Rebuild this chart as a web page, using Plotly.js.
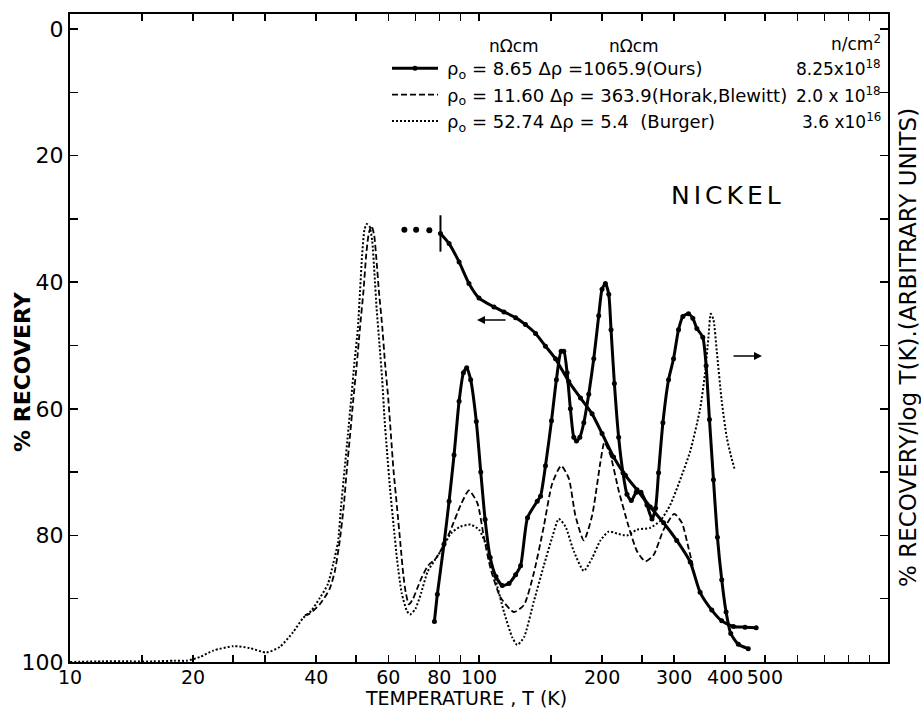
<!DOCTYPE html>
<html><head><meta charset="utf-8">
<script src="https://cdn.plot.ly/plotly-3.0.1.min.js"></script>
<style>html,body{margin:0;padding:0;background:#fff}#chart{width:921px;height:711px}</style>
</head><body><div id="chart"></div>
<script>
// ---- data (T in K; recovery in %; recovery rates in arbitrary units on right axis) ----
const oursT = [77.8,79.1,82.1,84.5,86.9,89.4,91.6,93.3,95.4,98.5,101,103.5,106.5,110,114,118.4,122.9,126.4,131.4,138.8,141.4,145.4,150.4,154.6,158.8,161.2,164.2,167.3,170.5,173.1,176.4,180.4,185.5,190.8,196.2,199.9,203.7,207.6,210.3,214.3,219.5,224.9,230.0,235.7,242.4,248.9,257.4,264.8,270.2,274.8,281.6,290.7,299.0,307.5,315.1,325.3,333.3,340.9,352.5,359.2,366.0,374.3,382.8,392.2,401.9,412.6,430.6,455.4];
const oursRate = [6.4,10.7,18.6,25.4,32.7,41.2,45.7,46.5,44.6,38,30,22.5,16.5,13.5,12.1,12.4,13.8,15.2,22.8,25.4,26.2,31.0,38.1,44.6,49.1,49.1,45.7,40.0,35.5,34.9,35.5,37.8,42.3,47.9,54.7,58.9,59.8,58.1,52.5,44.0,35.5,29.9,26.5,25.5,26.8,26.8,24.8,22.6,24.3,29.9,37.8,44.6,47.9,52.5,54.6,55.0,54.3,52.7,51.3,46.8,38.3,28.8,19.7,13.0,7.9,4.5,2.8,2.1];

const horakT = [37.5,38.5,40.8,43.1,44.4,45.6,46.7,47.5,48.4,49.3,50.3,51.2,52.2,53.0,53.8,54.6,55.4,56.1,56.9,58.0,58.9,60.0,60.9,61.8,63.0,64.2,65.3,66.2,67.4,69.0,70.5,72.5,75.0,78.5,82.0,85.3,90.2,94.5,99.1,102.8,106.8,112.9,121.7,128.8,136.2,144.0,151.0,158.8,165.8,172.1,180.4,189.0,198.1,202.6,209.5,219.5,232.2,243.4,255.0,267.2,282.7,300.1,313.3,325.3,333.3];
const horakRate = [7.4,7.6,9.1,11.5,14.3,18.9,24.6,30.3,35.9,41.6,47.3,53.0,58.7,64.4,67.8,68.9,67.5,63.8,58.7,53.0,47.3,41.6,35.9,30.3,24.6,18.9,13.8,11.0,9.1,10.0,11.5,13.4,15.2,16.4,18.5,20.9,24.8,27.1,25.1,19.7,14.7,10.2,7.9,9.0,14.1,21.4,28.2,31.0,29.0,23.1,19.2,23.1,31.6,34.7,32.7,27.1,21.4,17.5,15.9,16.9,20.9,23.4,22.0,18.0,15.2];

const burgerT = [10,12,14,16,18,19.3,20.8,22.4,25.1,27.5,30.2,32.6,35.1,37.1,38.9,40.8,42.7,44.0,45.2,46.0,46.9,47.8,48.7,49.6,50.6,51.2,51.8,52.5,53.2,54.0,54.8,55.5,56.2,57.1,58.0,58.7,59.6,60.6,61.8,63.1,64.7,66.6,67.8,69.9,72.2,74.9,77.8,81.5,85.3,90.2,95.4,100,104.8,109.8,115.1,120.6,124.0,128.8,136.2,144.0,151.0,156.7,162.7,170.5,180.4,189.0,198.1,207.6,217.5,230.0,243.4,262.3,277.4,293.4,310.4,328.4,347.2,357.1,363.9,368.7,374.3,381.4,392.2,403.4,412.6,422.7];
const burgerRate = [0,0.1,0.1,0.1,0.2,0.2,0.8,1.8,2.5,2.2,1.5,2.4,4.7,6.9,8.1,10.1,12.3,15.5,18.9,24.6,30.3,35.9,41.6,47.3,53.0,58.7,64.4,68.35,69.2,68.8,66.6,61.5,55.8,50.2,44.5,38.8,33.1,27.4,21.7,16.0,10.9,8.1,7.5,8.4,10.9,14.3,16.0,18.0,20.3,21.4,21.7,20.9,18.0,13.0,7.9,3.9,2.7,3.9,9.6,15.2,19.7,22.6,21.4,17.5,14.4,16.4,19.2,20.6,20.3,20.0,20.9,21.2,22.3,24.8,28.8,33.3,40.0,45.7,51.3,55.0,54.1,49.1,41.2,35.5,32.7,30.2];

const recT = [80.5,84.5,89.4,94.5,100,108.8,115.1,122.9,129.9,137.5,145.4,153.8,165.8,177.1,189.0,199.9,213.3,228.0,243.4,262.3,282.7,304.4,328.4,347.2,370.8,392.2,418.9,447.2,476.1];
const recPct = [32.3,33.9,36.8,40.2,42.5,43.9,44.7,45.6,46.7,48.1,50.1,52.1,55.7,58.3,60.8,63.9,67.6,70.5,72.8,75.5,78.0,80.8,84.2,89.0,91.8,93.5,94.4,94.5,94.6];
const lowT = [65.7,70.2,75.6];
const lowPct = [31.7,31.7,31.8];
const startT = [80.5];
const startPct = [32.3];

const xTickVals = [10,20,40,60,80,100,200,300,400,500];
const xTickText = ['10','20','40','60','80','100','200','300','400','500'];
const xMinorVals = [15,25,30,50,70,90,150,250,600,700,800,900];
const yTickVals = [0,20,40,60,80,100];
const yTickText = ['0','20','40','60','80','100'];
const yMinorVals = [10,30,50,70,90];

const legendNames = ['ρ<sub>o</sub> = 8.65 Δρ =1065.9(Ours)','ρ<sub>o</sub> = 11.60 Δρ = 363.9(Horak,Blewitt)','ρ<sub>o</sub> = 52.74 Δρ = 5.4  (Burger)'];
const fluence = ['8.25x10<sup>18</sup>','2.0 x 10<sup>18</sup>','3.6 x10<sup>16</sup>'];

[[oursT,oursRate],[horakT,horakRate],[burgerT,burgerRate],[recT,recPct],[lowT,lowPct]].forEach(function(p,i){
  if(p[0].length!==p[1].length) throw new Error('length mismatch in series '+i+': '+p[0].length+' vs '+p[1].length);
});

// ---- layout geometry (pixels) ----
const W=921,H=711,PL=70,PR=888,PT=14,PB=662;
function px(x){return (x-PL)/(PR-PL);}
function py(y){return 1-(y-PT)/(PB-PT);}
const FONT='DejaVu Sans';
const K='#000';

const traces = [
  {x:oursT,y:oursRate,yaxis:'y2',name:legendNames[0],mode:'lines+markers',
   line:{color:K,width:3,shape:'spline',smoothing:0.6},marker:{color:K,size:5}},
  {x:horakT,y:horakRate,yaxis:'y2',name:legendNames[1],mode:'lines',
   line:{color:K,width:1.8,dash:'6px,3px',shape:'spline',smoothing:0.6}},
  {x:burgerT,y:burgerRate,yaxis:'y2',name:legendNames[2],mode:'lines',
   line:{color:K,width:2,dash:'2px,2px',shape:'spline',smoothing:0.6}},
  {x:recT,y:recPct,yaxis:'y',name:'recovery (Ours)',showlegend:false,mode:'lines+markers',
   line:{color:K,width:3,shape:'spline',smoothing:0.6},marker:{color:K,size:5}},
  {x:lowT,y:lowPct,yaxis:'y',showlegend:false,mode:'markers',marker:{color:K,size:6}},
  {x:startT,y:startPct,yaxis:'y',showlegend:false,mode:'markers',
   marker:{symbol:'line-ns-open',size:26,color:K,line:{color:K,width:2}}}
];

function ann(text,x,y,opts){
  return Object.assign({text:text,x:px(x),y:py(y),xref:'paper',yref:'paper',showarrow:false,
    xanchor:'center',yanchor:'middle',font:{family:FONT,size:17,color:K}},opts||{});
}
const rows=[68,94.5,121];
const annotations=[
  ann('% RECOVERY',22,372,{textangle:-90,font:{family:FONT,size:22,color:K,weight:'bold'}}),
  ann('TEMPERATURE , T (K)',466,698,{font:{family:FONT,size:19,color:K}}),
  ann('% RECOVERY/log T(K).(ARBITRARY UNITS)',908,348,{textangle:-90,font:{family:FONT,size:23,color:K}}),
  ann('NICKEL',728,195,{font:{family:FONT,size:25,color:K}}),
  ann('nΩcm',514,46),
  ann('nΩcm',634,46),
  ann('n/cm<sup>2</sup>',856,43),
  ann(fluence[0],883,rows[0],{xanchor:'right'}),
  ann(fluence[1],883,rows[1],{xanchor:'right'}),
  ann(fluence[2],883,rows[2],{xanchor:'right'}),
  {x:px(477),y:py(320),xref:'paper',yref:'paper',text:'',showarrow:true,ax:30,ay:0,
   arrowhead:2,arrowsize:1,arrowwidth:1.6,arrowcolor:K},
  {x:px(762),y:py(356),xref:'paper',yref:'paper',text:'',showarrow:true,ax:-30,ay:0,
   arrowhead:2,arrowsize:1,arrowwidth:1.6,arrowcolor:K}
];

const axisCommon={tickcolor:K,tickwidth:1.5,showline:true,linewidth:2,linecolor:K,mirror:'ticks',
  showgrid:false,zeroline:false,ticks:'inside'};
const layout={
  width:W,height:H,margin:{l:PL,r:W-PR,t:PT,b:H-PB},
  paper_bgcolor:'#fff',plot_bgcolor:'#fff',
  font:{family:FONT,color:K},
  showlegend:true,
  legend:{x:px(387),y:py(50),xanchor:'left',yanchor:'top',bgcolor:'rgba(0,0,0,0)',itemwidth:50,
    font:{family:FONT,size:18,color:K},traceorder:'normal'},
  xaxis:Object.assign({type:'log',range:[1,3],tickmode:'array',tickvals:xTickVals,ticktext:xTickText,
    ticklen:7,tickangle:0,ticklabelstandoff:-3,tickfont:{family:FONT,size:19,color:K},
    minor:{tickmode:'array',tickvals:xMinorVals,ticks:'inside',ticklen:7,tickwidth:1.5,tickcolor:K,showgrid:false}},axisCommon),
  yaxis:Object.assign({range:[100,-2.37],tickmode:'array',tickvals:yTickVals,ticktext:yTickText,ticklen:8,
    tickfont:{family:FONT,size:22,color:K},
    minor:{tickmode:'array',tickvals:yMinorVals,ticks:'inside',ticklen:8,tickwidth:1.5,tickcolor:K,showgrid:false}},axisCommon),
  yaxis2:{overlaying:'y',side:'right',range:[0,102.37],visible:false,showgrid:false,zeroline:false},
  annotations:annotations
};
Plotly.newPlot('chart',traces,layout,{staticPlot:true,displayModeBar:false}).then(function(gd){
  gd.querySelectorAll('.annotation-text').forEach(function(t){
    if(t.textContent==='NICKEL'){t.style.letterSpacing='4px';}
  });
  gd.querySelectorAll('.legend .traces').forEach(function(tr){
    tr.querySelectorAll('path.js-line').forEach(function(p){p.setAttribute('d','M5,0h46');});
    tr.querySelectorAll('.legendpoints path').forEach(function(p){p.setAttribute('transform','translate(28,0)');});
  });
});
</script></body></html>
